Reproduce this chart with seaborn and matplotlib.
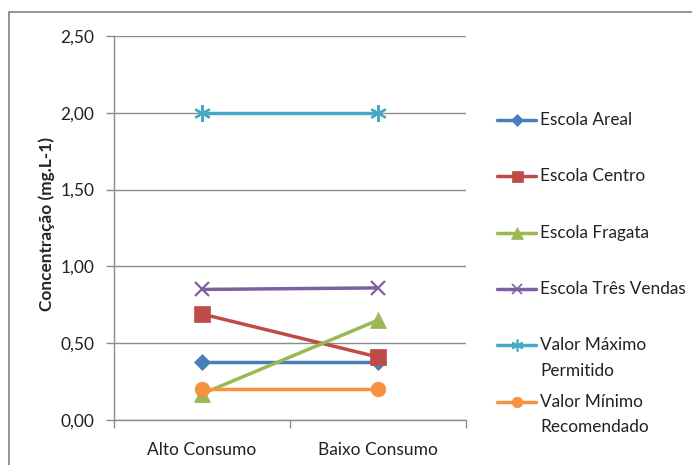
import matplotlib
matplotlib.use("Agg")
import matplotlib.pyplot as plt
from matplotlib.patches import Rectangle
from matplotlib.lines import Line2D
from matplotlib.ticker import FuncFormatter, FixedLocator
import seaborn as sns

categories = ["Alto Consumo", "Baixo Consumo"]
series_names = ["Escola Areal", "Escola Centro", "Escola Fragata",
                "Escola Três Vendas", "Valor Máximo\nPermitido",
                "Valor Mínimo\nRecomendado"]
areal = [0.38, 0.38]
centro = [0.69, 0.41]
fragata = [0.17, 0.65]
tres_vendas = [0.85, 0.86]
valor_maximo = [2.00, 2.00]
valor_minimo = [0.20, 0.20]
y_ticks = [0.0, 0.5, 1.0, 1.5, 2.0, 2.5]

values = [areal, centro, fragata, tres_vendas, valor_maximo, valor_minimo]
colors = ["#4A7EBB", "#BE4B48", "#98B954", "#7D60A0", "#46AAC5", "#F69240"]
markers = ["D", "s", "^", "x", (6, 2, 0), "o"]
msizes = [7.8, 11, 11.5, 9.8, 12, 10.6]

sns.set_style("white")
plt.rcParams["font.family"] = ["Lato", "DejaVu Sans"]

W, H = 692, 465
fig = plt.figure(figsize=(W / 100, H / 100), dpi=100)
fig.patches.append(Rectangle((9 / W, -0.1), 1.2, 1 - 12 / H + 0.1,
                             transform=fig.transFigure, fill=False,
                             edgecolor="#8c8c8c", linewidth=1.3))
ax = fig.add_axes([114 / W, 1 - 420 / H, 352 / W, 384 / H])

pos = list(range(len(categories)))
for name, vals, c, m, ms in zip(series_names, values, colors, markers, msizes):
    thin = m == "x" or isinstance(m, tuple)
    sns.lineplot(x=pos, y=vals, ax=ax, color=c, marker=m, markersize=ms,
                 linewidth=2.5, markeredgecolor=c,
                 markeredgewidth=1.6 if thin else 0.5, legend=False)

ax.set_xlim(-0.5, 1.5)
ax.set_ylim(0, 2.5)
ax.set_yticks(y_ticks)
ax.yaxis.set_major_formatter(FuncFormatter(lambda v, p: f"{v:.2f}".replace(".", ",")))
ax.yaxis.grid(True, color="#8c8c8c", linewidth=1.0)
ax.set_axisbelow(True)

ax.xaxis.set_major_locator(FixedLocator([-0.5, 0.5, 1.5]))
ax.xaxis.set_major_formatter(FuncFormatter(lambda v, p: ""))
ax.xaxis.set_minor_locator(FixedLocator(pos))
ax.set_xticklabels(categories, minor=True)
ax.tick_params(axis="x", which="major", direction="out", length=6, color="#8c8c8c", width=1.0, bottom=True)
ax.tick_params(axis="x", which="minor", length=0, pad=16, labelsize=12.5, labelcolor="#222222")
ax.tick_params(axis="y", direction="out", length=6, color="#8c8c8c", width=1.0, left=True,
               labelsize=12.5, labelcolor="#222222", pad=8)

for side in ("top", "right"):
    ax.spines[side].set_visible(False)
for side in ("left", "bottom"):
    ax.spines[side].set_color("#8c8c8c")
    ax.spines[side].set_linewidth(1.0)

ax.set_xlabel("")
ax.set_ylabel("Concentração (mg.L-1)", fontsize=12.4, fontweight="bold")
ax.yaxis.set_label_coords(-0.168, 0.51)

# legend: one row per series, extra label lines continue below the first
x0, x1, xt = 497 / W, 536 / W, 540 / W
row_top, row_step, line_step = 120, 56.3, 25.5
for i, (name, c, m, ms) in enumerate(zip(series_names, colors, markers, msizes)):
    thin = m == "x" or isinstance(m, tuple)
    y = 1 - (row_top + i * row_step) / H
    fig.add_artist(Line2D([x0, (x0 + x1) / 2, x1], [y, y, y], transform=fig.transFigure,
                          color=c, linewidth=2.5, marker=m, markevery=[1],
                          markersize=ms * 0.72, markeredgecolor=c,
                          markeredgewidth=1.2 if thin else 0.5))
    for k, line in enumerate(name.split("\n")):
        fig.text(xt, y - k * line_step / H, line, fontsize=12.4, color="#222222",
                 ha="left", va="center")

fig.savefig("out.png", dpi=100)
